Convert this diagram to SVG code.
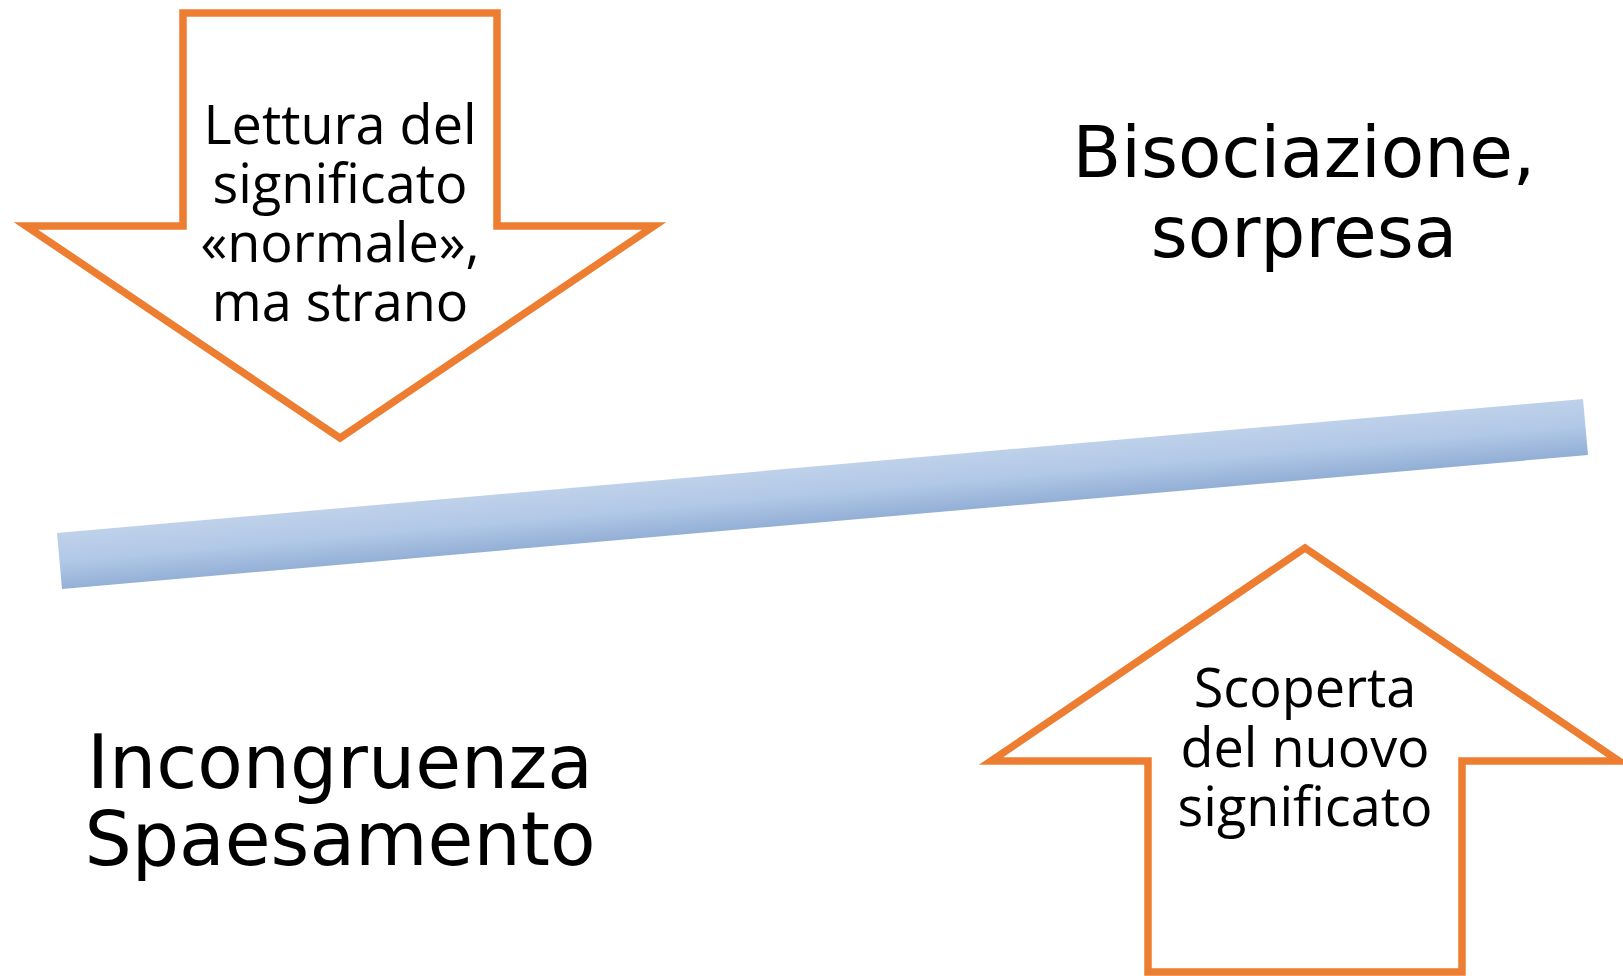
<svg xmlns="http://www.w3.org/2000/svg" width="1623" height="976" viewBox="0 0 1623 976">
  <defs>
    <linearGradient id="bandGrad" gradientUnits="userSpaceOnUse" x1="820" y1="466" x2="825" y2="522">
      <stop offset="0" stop-color="#bfd1ea"/>
      <stop offset="0.5" stop-color="#b1c8e7"/>
      <stop offset="1" stop-color="#93afd5"/>
    </linearGradient>
    <style>
      .arrow { fill: #ffffff; stroke: #ED7D31; stroke-width: 7.5; stroke-linejoin: miter; }
      .small { font-family: "Open Sans", "Noto Sans", sans-serif; font-size: 54px; fill: #000000; text-anchor: middle; }
      .big { font-family: "DejaVu Sans", sans-serif; fill: #000000; text-anchor: middle; }
    </style>
  </defs>
  <rect width="1623" height="976" fill="#ffffff"/>

  <g id="band">
    <polygon points="57,533 1583,399 1588,455 62,589" fill="url(#bandGrad)"/>
  </g>

  <g id="arrow-down">
    <polygon class="arrow" points="183,13 497,13 497,226 654,226 340,438 26,226 183,226"/>
    <text class="small" x="340" y="144">Lettura del</text>
    <text class="small" x="340" y="203">significato</text>
    <text class="small" x="340" y="262">«normale»,</text>
    <text class="small" x="340" y="321">ma strano</text>
  </g>

  <g id="arrow-up">
    <polygon class="arrow" points="1148,972 1148,761 991,761 1305,548 1619,761 1462,761 1462,972"/>
    <text class="small" x="1305" y="707">Scoperta</text>
    <text class="small" x="1305" y="767">del nuovo</text>
    <text class="small" x="1305" y="826">significato</text>
  </g>

  <g id="label-bisociazione">
    <text class="big" x="1304" y="177" font-size="71">Bisociazione,</text>
    <text class="big" x="1304" y="257" font-size="71">sorpresa</text>
  </g>

  <g id="label-incongruenza">
    <text class="big" x="340" y="788" font-size="74.5">Incongruenza</text>
    <text class="big" x="340" y="865" font-size="74.5">Spaesamento</text>
  </g>

  <g id="connectors"></g>
</svg>
